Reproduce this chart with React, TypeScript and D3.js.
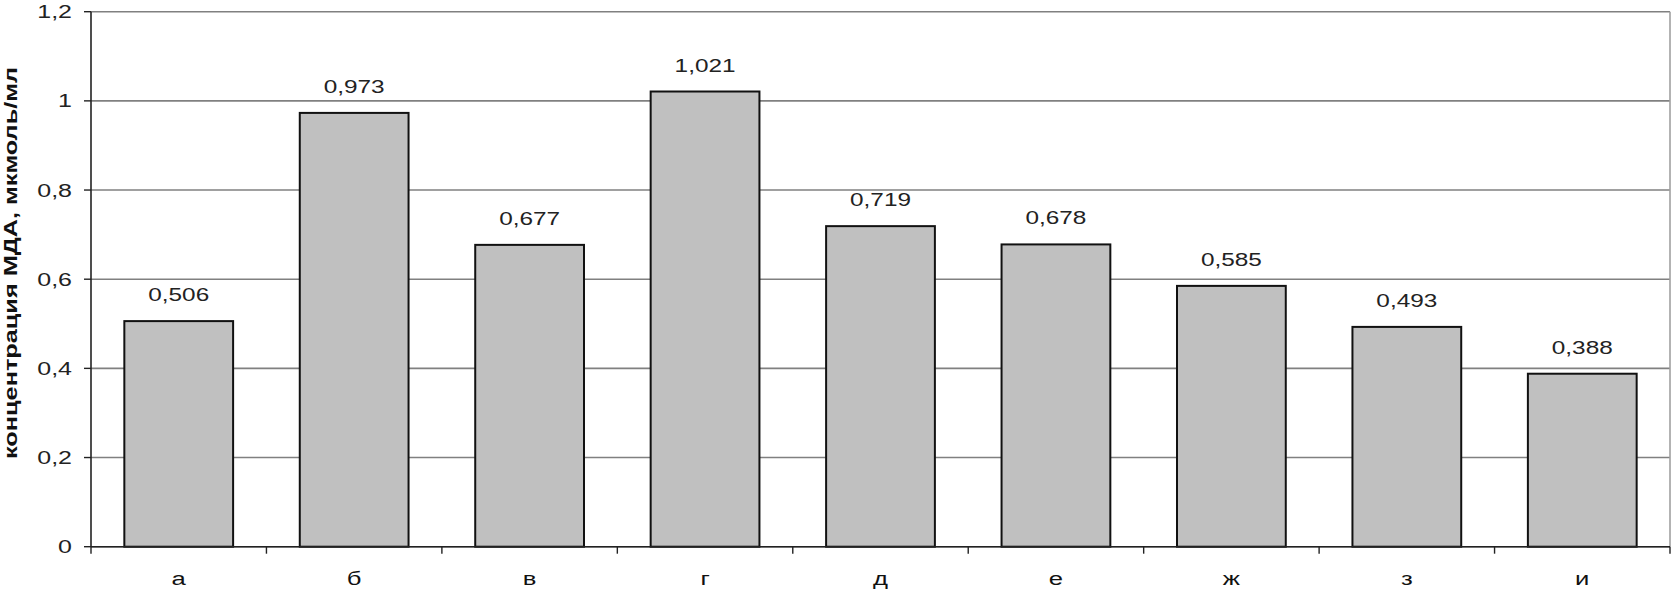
import React from "react";
import * as d3 from "d3";

const categories = ["а", "б", "в", "г", "д", "е", "ж", "з", "и"];
const values = [0.506, 0.973, 0.677, 1.021, 0.719, 0.678, 0.585, 0.493, 0.388];
const valueLabels = ["0,506", "0,973", "0,677", "1,021", "0,719", "0,678", "0,585", "0,493", "0,388"];
const yTicks = [0, 0.2, 0.4, 0.6, 0.8, 1, 1.2];
const yTickLabels = ["0", "0,2", "0,4", "0,6", "0,8", "1", "1,2"];
const yTitle = "концентрация МДА, мкмоль/мл";

const W = 1676;
const H = 591;
const left = 91;
const right = 1670;
const top = 11.7;
const bottom = 546.7;
const font = "'Liberation Sans', Arial, sans-serif";
const sx = 1.35;

export default function App() {
  const x = d3.scaleBand<string>().domain(categories).range([left, right]).paddingInner(0.38).paddingOuter(0.19);
  const xb = d3.scaleBand<string>().domain(categories).range([left, right]);
  const y = d3.scaleLinear().domain([0, 1.2]).range([bottom, top]);
  const fmt = (i: number) => yTickLabels[i];

  return (
    <svg width={W} height={H} style={{ position: "absolute", left: 0, top: 0, background: "#fff" }}>
      {/* gridlines */}
      {yTicks.map((t, i) => (
        <line key={"g" + i} x1={left} x2={right} y1={y(t)} y2={y(t)} stroke="#808080" strokeWidth={1.6} />
      ))}
      {/* right border */}
      <line x1={right} x2={right} y1={top} y2={bottom} stroke="#a0a0a0" strokeWidth={1.6} />
      {/* bars */}
      {values.map((v, i) => (
        <rect
          key={"b" + i}
          x={x(categories[i])}
          y={y(v)}
          width={x.bandwidth()}
          height={y(0) - y(v)}
          fill="#c0c0c0"
          stroke="#111"
          strokeWidth={2}
        />
      ))}
      {/* axes */}
      <line x1={left} x2={left} y1={top} y2={bottom} stroke="#222" strokeWidth={1.6} />
      <line x1={left} x2={right} y1={bottom} y2={bottom} stroke="#222" strokeWidth={1.6} />
      {yTicks.map((t, i) => (
        <line key={"yt" + i} x1={left - 7} x2={left} y1={y(t)} y2={y(t)} stroke="#222" strokeWidth={1.4} />
      ))}
      {categories.map((c, i) => (
        <line key={"xt" + i} x1={(xb(c) as number) + xb.bandwidth()} x2={(xb(c) as number) + xb.bandwidth()} y1={bottom} y2={bottom + 7} stroke="#222" strokeWidth={1.4} />
      ))}
      <line x1={left} x2={left} y1={bottom} y2={bottom + 7} stroke="#222" strokeWidth={1.4} />
      {/* y tick labels */}
      {yTicks.map((t, i) => (
        <text
          key={"yl" + i}
          transform={`translate(${left - 19},${y(t) + 6.5}) scale(${sx},1)`}
          textAnchor="end"
          fontFamily={font}
          fontSize={18.5}
          fill="#222"
        >
          {fmt(i)}
        </text>
      ))}
      {/* x labels */}
      {categories.map((c, i) => (
        <text
          key={"xl" + i}
          transform={`translate(${(xb(c) as number) + xb.bandwidth() / 2},${585}) scale(${sx},1)`}
          textAnchor="middle"
          fontFamily={font}
          fontSize={19}
          fill="#111"
        >
          {c}
        </text>
      ))}
      {/* value labels */}
      {values.map((v, i) => (
        <text
          key={"vl" + i}
          transform={`translate(${(x(categories[i]) as number) + x.bandwidth() / 2},${y(v) - 20}) scale(${sx * 0.95},1)`}
          textAnchor="middle"
          fontFamily={font}
          fontSize={19}
          fill="#222"
        >
          {valueLabels[i]}
        </text>
      ))}
      {/* y title */}
      <text
        transform={`translate(${17},${263}) rotate(-90)`}
        textAnchor="middle"
        fontFamily={font}
        fontWeight="bold"
        fontSize={19}
        fill="#111"
        textLength={392}
        lengthAdjust="spacingAndGlyphs"
      >
        {yTitle}
      </text>
    </svg>
  );
}
